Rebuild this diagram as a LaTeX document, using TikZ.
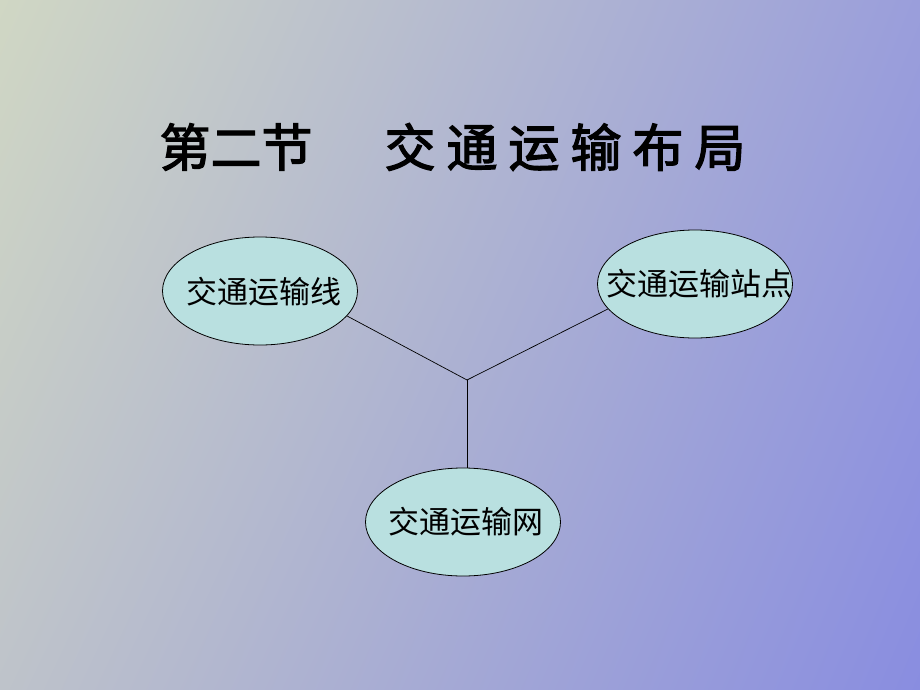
\documentclass[tikz,border=0pt]{standalone}
\usepackage{fontspec}
\usetikzlibrary{shapes.geometric,shadings}
\newfontfamily\cjk{Noto Sans CJK SC}
\newfontfamily\cjktitle{Noto Sans CJK SC}[FakeBold=2.5]
\definecolor{bgTL}{HTML}{D0D7C4}
\definecolor{bgTR}{HTML}{9A9EDB}
\definecolor{bgBL}{HTML}{BEC3CA}
\definecolor{bgBR}{HTML}{898DE0}
\definecolor{ellfill}{HTML}{B9E0E0}
\tikzset{
  ell/.style={ellipse, draw=black, line width=0.8pt, fill=ellfill,
    minimum width=195pt, minimum height=108pt, inner sep=0pt},
  elltext/.style={font=\cjk\fontsize{31pt}{31pt}\selectfont, inner sep=0pt, text=black},
  titletext/.style={font=\cjktitle\fontsize{51pt}{51pt}\selectfont, inner sep=0pt, text=black},
  conn/.style={draw=black, line width=0.7pt}
}
\begin{document}
\begin{tikzpicture}[x=1pt,y=-1pt]
\shade[upper left=bgTL, upper right=bgTR, lower left=bgBL, lower right=bgBR]
  (0,0) rectangle (920,690);
\useasboundingbox (0,0) rectangle (920,690);
% title
\node[titletext] (t1) at (236,147) {第二节};
\node[titletext] (t2) at (565,147) {交\hspace{11pt}通\hspace{11pt}运\hspace{11pt}输\hspace{11pt}布\hspace{11pt}局};
% ellipses
\node[ell] (e1) at (260,291) {};
\node[ell] (e2) at (695,284) {};
\node[ell] (e3) at (463,522) {};
\node[elltext] (l1) at (264,292) {交通运输线};
\node[elltext] (l2) at (699,284) {交通运输站点};
\node[elltext] (l3) at (466,522) {交通运输网};
% connectors
\coordinate (j) at (467,380);
\draw[conn] (e1.-16) -- (j);
\draw[conn] (e2.196) -- (j);
\draw[conn] (j) -- (j |- e3.north);
\end{tikzpicture}
\end{document}
